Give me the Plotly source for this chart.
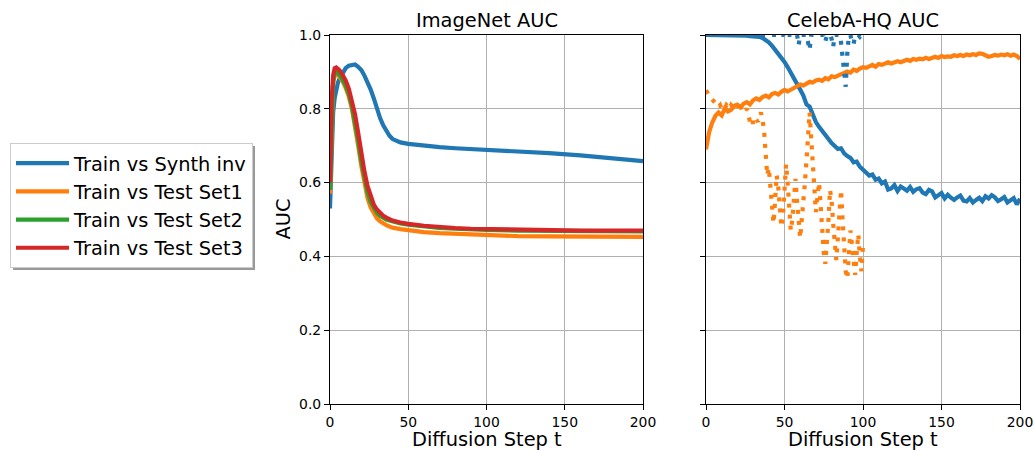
import plotly.graph_objects as go

# ---------------- data ----------------
series_names = ["Train vs Synth inv", "Train vs Test Set1", "Train vs Test Set2", "Train vs Test Set3"]
colors = ["#1f77b4", "#ff7f0e", "#2ca02c", "#d62728"]

# ImageNet panel
imnet_t = [0, 1, 2, 3, 4, 5, 6, 8, 10, 12, 14, 16, 18, 20, 22, 24, 26, 28, 30, 32, 34, 36, 38, 40,
           45, 50, 60, 70, 80, 90, 100, 120, 140, 160, 180, 200]
imnet_synth = [0.53, 0.70, 0.79, 0.83, 0.855, 0.87, 0.88, 0.898, 0.91, 0.917, 0.92, 0.92, 0.914, 0.905,
               0.89, 0.872, 0.852, 0.828, 0.80, 0.775, 0.755, 0.74, 0.727, 0.718,
               0.709, 0.705, 0.70, 0.696, 0.693, 0.691, 0.689, 0.685, 0.68, 0.674, 0.666, 0.658]
imnet_set1 = [0.57, 0.79, 0.87, 0.89, 0.895, 0.893, 0.888, 0.875, 0.857, 0.833, 0.80, 0.755, 0.70, 0.645,
              0.597, 0.558, 0.533, 0.515, 0.503, 0.495, 0.489, 0.485, 0.481, 0.478,
              0.474, 0.471, 0.466, 0.463, 0.461, 0.459, 0.457, 0.455, 0.454, 0.453, 0.453, 0.453]
imnet_set2 = [0.58, 0.80, 0.875, 0.895, 0.90, 0.898, 0.893, 0.88, 0.863, 0.84, 0.808, 0.765, 0.713, 0.658,
              0.61, 0.573, 0.548, 0.53, 0.518, 0.51, 0.504, 0.50, 0.497, 0.494,
              0.489, 0.486, 0.481, 0.477, 0.475, 0.473, 0.472, 0.47, 0.469, 0.468, 0.468, 0.468]
imnet_set3 = [0.60, 0.82, 0.89, 0.91, 0.912, 0.91, 0.905, 0.892, 0.877, 0.855, 0.825, 0.785, 0.735, 0.68,
              0.63, 0.59, 0.56, 0.54, 0.527, 0.517, 0.51, 0.505, 0.50, 0.497,
              0.492, 0.488, 0.483, 0.479, 0.477, 0.475, 0.474, 0.472, 0.471, 0.47, 0.47, 0.47]

# CelebA-HQ panel (solid, every 2 steps)
celeb_t = list(range(0, 201, 2))
celeb_synth = [1.0, 1.0, 1.0, 0.999, 1.0, 1.0, 0.999, 1.0, 0.999, 1.0,
               0.999, 0.999, 0.998, 0.998, 0.997, 0.997, 0.996, 0.995, 0.992, 0.987,
               0.98, 0.971, 0.961, 0.95, 0.938, 0.927, 0.913, 0.899, 0.884, 0.868,
               0.852, 0.836, 0.812, 0.806, 0.781, 0.764, 0.751, 0.739, 0.726, 0.718,
               0.707, 0.699, 0.691, 0.693, 0.679, 0.672, 0.667, 0.655, 0.657, 0.643,
               0.635, 0.628, 0.619, 0.622, 0.608, 0.611, 0.598, 0.603, 0.581, 0.584,
               0.593, 0.577, 0.589, 0.584, 0.578, 0.588, 0.575, 0.582, 0.585, 0.573,
               0.569, 0.58, 0.576, 0.56, 0.566, 0.572, 0.557, 0.567, 0.559, 0.553,
               0.56, 0.565, 0.551, 0.549, 0.558, 0.546, 0.553, 0.559, 0.55, 0.563,
               0.557, 0.566, 0.56, 0.55, 0.555, 0.561, 0.546, 0.552, 0.558, 0.541,
               0.556]
celeb_set1 = [0.69, 0.737, 0.763, 0.781, 0.79, 0.782, 0.801, 0.793, 0.797, 0.808,
              0.811, 0.804, 0.814, 0.818, 0.812, 0.823, 0.828, 0.824, 0.832, 0.836,
              0.831, 0.84, 0.843, 0.839, 0.846, 0.851, 0.847, 0.852, 0.858, 0.861,
              0.866, 0.863, 0.868, 0.873, 0.871, 0.877, 0.879, 0.876, 0.883, 0.88,
              0.888, 0.886, 0.89, 0.895, 0.897, 0.901, 0.898, 0.906, 0.903, 0.909,
              0.913, 0.911, 0.915, 0.919, 0.914, 0.921, 0.919, 0.923, 0.926, 0.923,
              0.927, 0.929, 0.926, 0.931, 0.933, 0.93, 0.935, 0.933, 0.936, 0.934,
              0.938, 0.935, 0.939, 0.941, 0.938, 0.943, 0.94, 0.942, 0.941, 0.945,
              0.943, 0.946, 0.943, 0.947, 0.945, 0.948, 0.946, 0.95, 0.949, 0.944,
              0.941, 0.943, 0.946, 0.944, 0.947, 0.945, 0.948, 0.944, 0.947, 0.943,
              0.935]

# CelebA-HQ panel (dotted, every step, t = 0..100)
dot_t = list(range(0, 101))
dot_synth = [
    1.0, 1.0, 1.0, 1.0, 1.0, 1.0, 1.0, 1.0, 1.0, 1.0,
    1.0, 1.0, 1.0, 1.0, 1.0, 1.0, 1.0, 1.0, 1.0, 1.0,
    1.0, 1.0, 1.0, 1.0, 1.0, 1.0, 1.0, 1.0, 1.0, 1.0,
    1.0, 1.0, 1.0, 1.0, 1.0, 1.0, 1.0, 1.0, 1.0, 1.0,
    1.0, 1.0, 1.0, 1.0, 1.0, 1.0, 0.995, 1.0, 1.0, 1.0,
    1.0, 0.99, 1.0, 1.0, 1.0, 1.0, 1.0, 0.995, 1.0, 0.973,
    1.0, 1.0, 1.0, 1.0, 1.0, 0.98, 0.96, 1.0, 1.0, 1.0,
    1.0, 1.0, 1.0, 1.0, 1.0, 1.0, 0.982, 1.0, 1.0, 1.0,
    0.99, 0.968, 1.0, 1.0, 1.0, 1.0, 0.98, 0.94, 0.88, 0.86,
    0.95, 1.0, 1.0, 0.98, 0.975, 1.0, 1.0, 1.0, 0.995, 1.0,
    1.0]
dot_set1 = [
    0.85, 0.84, 0.835, 0.83, 0.825, 0.82, 0.815, 0.81, 0.805, 0.81,
    0.80, 0.805, 0.80, 0.81, 0.805, 0.80, 0.81, 0.805, 0.81, 0.80,
    0.81, 0.815, 0.80, 0.81, 0.805, 0.795, 0.80, 0.785, 0.765, 0.775,
    0.76, 0.775, 0.77, 0.765, 0.78, 0.79, 0.77, 0.74, 0.68, 0.62,
    0.64, 0.58, 0.52, 0.49, 0.55, 0.62, 0.59, 0.53, 0.48, 0.51,
    0.58, 0.65, 0.60, 0.52, 0.47, 0.50, 0.56, 0.61, 0.55, 0.48,
    0.45, 0.50, 0.57, 0.60, 0.66, 0.74, 0.79, 0.72, 0.64, 0.58,
    0.52, 0.56, 0.60, 0.54, 0.47, 0.41, 0.38, 0.43, 0.50, 0.58,
    0.55, 0.49, 0.43, 0.39, 0.45, 0.52, 0.58, 0.50, 0.42, 0.36,
    0.34, 0.40, 0.47, 0.43, 0.37, 0.35, 0.41, 0.46, 0.40, 0.36,
    0.43]

x_ticks = [0, 50, 100, 150, 200]
y_ticks = [0.0, 0.2, 0.4, 0.6, 0.8, 1.0]
panel_titles = ["ImageNet AUC", "CelebA-HQ AUC"]
x_title = "Diffusion Step t"
y_title = "AUC"

# ---------------- figure ----------------
W, H = 1034, 450
FONT = "DejaVu Sans"
LW = 4.2

fig = go.Figure()

imnet_vals = [imnet_synth, imnet_set1, imnet_set2, imnet_set3]
for name, col, vals in zip(series_names, colors, imnet_vals):
    fig.add_trace(go.Scatter(x=imnet_t, y=vals, mode="lines", name=name,
                             line=dict(color=col, width=LW), xaxis="x", yaxis="y"))

fig.add_trace(go.Scatter(x=celeb_t, y=celeb_synth, mode="lines", showlegend=False,
                         line=dict(color=colors[0], width=LW), xaxis="x2", yaxis="y2"))
fig.add_trace(go.Scatter(x=celeb_t, y=celeb_set1, mode="lines", showlegend=False,
                         line=dict(color=colors[1], width=LW), xaxis="x2", yaxis="y2"))
fig.add_trace(go.Scatter(x=dot_t, y=dot_synth, mode="lines", showlegend=False,
                         line=dict(color=colors[0], width=LW, dash="4px,7px"), xaxis="x2", yaxis="y2"))
fig.add_trace(go.Scatter(x=dot_t, y=dot_set1, mode="lines", showlegend=False,
                         line=dict(color=colors[1], width=LW, dash="4px,7px"), xaxis="x2", yaxis="y2"))

def px_x(p):
    return p / W

def px_y(p):
    return 1 - p / H

ydom = [px_y(404), px_y(35)]
xdom1 = [px_x(330), px_x(643)]
xdom2 = [px_x(706), px_x(1020)]

axis_common = dict(showline=True, mirror=True, linecolor="black", linewidth=1.1,
                   ticks="outside", ticklen=5, tickwidth=1.1, tickcolor="black",
                   showgrid=True, gridcolor="#b0b0b0", gridwidth=1.1, zeroline=False,
                   automargin=False,
                   tickfont=dict(family=FONT, size=13.9, color="black"))

fig.update_layout(
    width=W, height=H, autosize=False,
    margin=dict(l=0, r=0, t=0, b=0, autoexpand=False),
    paper_bgcolor="white", plot_bgcolor="white",
    font=dict(family=FONT, color="black"),
    xaxis=dict(domain=xdom1, range=[0, 200], tickvals=x_ticks, anchor="y", **axis_common),
    yaxis=dict(domain=ydom, range=[0, 1], tickvals=y_ticks, tickformat=".1f", anchor="x", **axis_common),
    xaxis2=dict(domain=xdom2, range=[0, 200], tickvals=x_ticks, anchor="y2", **axis_common),
    yaxis2=dict(domain=ydom, range=[0, 1], tickvals=y_ticks, showticklabels=False, anchor="x2", **axis_common),
    legend=dict(x=px_x(10), y=px_y(143), xanchor="left", yanchor="top",
                bgcolor="white", bordercolor="#cccccc", borderwidth=1,
                font=dict(family=FONT, size=19.4, color="black"),
                itemwidth=53, tracegroupgap=0),
    showlegend=True,
)

# legend shadow
fig.add_shape(type="rect", xref="paper", yref="paper",
              x0=px_x(13), x1=px_x(255), y0=px_y(270), y1=px_y(146),
              fillcolor="#999999", line=dict(width=0), layer="above")

annots = []
for title, dom in zip(panel_titles, [xdom1, xdom2]):
    annots.append(dict(text=title, x=(dom[0] + dom[1]) / 2, y=px_y(21), xref="paper", yref="paper",
                       xanchor="center", yanchor="middle", showarrow=False,
                       font=dict(family=FONT, size=19.4, color="black")))
    annots.append(dict(text=x_title, x=(dom[0] + dom[1]) / 2, y=px_y(439), xref="paper", yref="paper",
                       xanchor="center", yanchor="middle", showarrow=False,
                       font=dict(family=FONT, size=19.4, color="black")))
annots.append(dict(text=y_title, x=px_x(283), y=(ydom[0] + ydom[1]) / 2, xref="paper", yref="paper",
                   xanchor="center", yanchor="middle", textangle=-90, showarrow=False,
                   font=dict(family=FONT, size=19.4, color="black")))
fig.update_layout(annotations=annots)

fig.write_html("out.html")
